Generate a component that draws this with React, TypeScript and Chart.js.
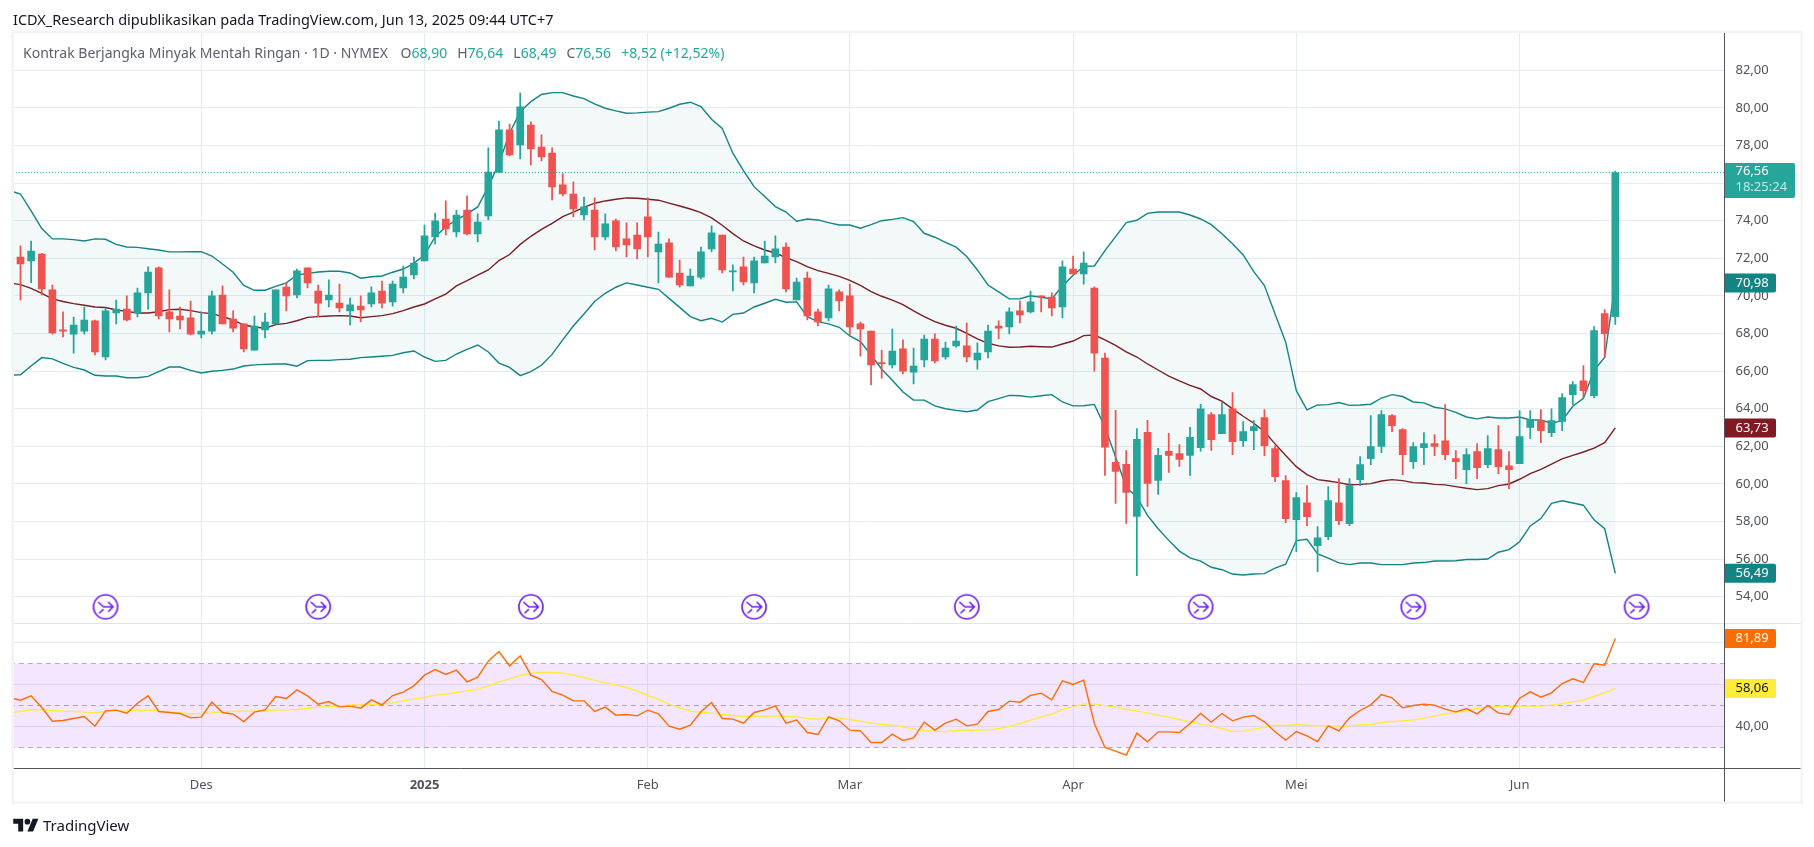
import React, { useEffect, useRef } from "react";
import { Chart, registerables } from "chart.js";

Chart.register(...registerables);

const opens = [
  72.07,71.86,72.23,70.32,68.19,67.97,68.13,68.67,66.75,69.09,
  69.30,69.09,70.16,71.49,69.15,68.93,68.83,67.97,68.13,70.05,
  68.77,68.51,67.12,68.19,68.51,70.47,70.05,71.49,70.26,69.78,
  69.62,69.20,69.46,69.57,70.26,69.68,70.42,71.11,71.86,73.13,
  74.09,73.40,74.57,73.29,74.25,76.56,78.83,78.03,79.09,77.92,
  77.60,75.90,75.42,74.30,74.57,73.13,73.99,73.03,73.24,74.20,
  72.34,72.82,71.22,70.53,71.0,72.50,73.24,71.27,71.54,70.69,
  71.75,72.07,72.60,69.78,70.95,69.15,68.83,70.21,70.0,68.51,
  68.13,66.43,66.33,67.18,65.95,66.59,67.71,66.75,67.34,67.34,
  66.59,67.02,68.40,68.35,69.20,69.15,70.0,69.94,69.41,71.43,
  71.17,70.42,66.70,61.15,61.04,58.27,62.74,60.19,61.73,61.62,
  61.52,61.93,63.69,62.68,64.0,62.30,62.84,63.53,61.88,60.18,
  58.10,59.0,56.72,57.2,59.0,57.89,60.23,61.35,61.99,63.63,
  62.89,61.19,61.93,62.15,62.30,61.35,60.76,61.72,61.03,61.83,
  60.97,61.08,63.0,63.37,62.73,63.32,64.75,65.49,64.70,69.06,68.90,
];
const closes = [
  71.70,72.39,70.37,68.03,68.13,68.45,68.72,67.02,69.20,69.30,
  68.72,70.16,71.27,68.93,68.77,68.72,67.97,68.13,70.0,68.51,
  68.29,67.18,68.40,68.61,70.32,70.0,71.33,70.69,69.62,70.05,
  69.36,69.52,69.25,70.16,69.62,70.63,71.0,71.75,73.19,73.99,
  73.56,74.30,73.29,73.93,76.59,78.83,77.50,80.05,77.82,77.39,
  75.79,75.42,74.62,74.73,73.13,73.83,72.60,72.71,72.50,73.13,
  72.76,71.0,70.58,71.06,72.34,73.35,71.38,71.33,70.74,71.86,
  72.12,72.50,70.37,70.74,68.93,68.61,70.37,69.73,68.35,68.24,
  66.33,66.40,67.07,66.0,66.27,67.71,66.54,67.23,67.60,66.75,
  66.96,68.13,68.29,69.15,68.99,69.68,69.94,69.36,71.54,71.17,
  71.75,66.96,61.96,60.67,59.55,62.37,60.03,61.52,61.52,61.30,
  62.48,64.0,62.36,63.69,62.25,62.78,63.05,62.04,60.39,58.16,
  59.27,58.26,57.14,59.11,58.05,59.91,61.03,61.99,63.69,63.10,
  61.56,61.99,62.15,61.99,61.56,61.19,61.56,60.87,61.88,60.92,
  60.76,62.52,63.42,62.84,63.37,64.59,65.28,64.96,68.16,67.99,76.56,
];
const highs = [
  72.66,72.92,72.27,70.58,69.15,68.88,69.41,68.72,69.36,69.78,
  70.0,70.42,71.54,71.54,70.32,69.41,69.73,69.15,70.26,70.53,
  69.20,68.51,68.93,69.09,70.32,70.69,71.43,71.49,70.58,70.85,
  70.63,69.89,70.0,70.48,70.79,70.79,71.59,72.07,73.77,74.41,
  75.05,74.57,75.32,74.36,77.87,79.30,79.14,80.79,79.25,78.56,
  77.87,76.49,76.06,75.26,75.21,74.36,74.09,73.88,73.88,75.21,
  73.40,73.03,71.91,71.43,72.60,73.72,73.24,71.65,72.07,72.07,
  72.92,73.19,72.82,70.95,71.27,69.30,70.58,70.32,70.63,68.61,
  68.13,67.12,68.24,67.66,67.23,67.92,67.98,67.55,68.40,68.56,
  67.50,68.45,68.67,69.36,69.73,70.26,70.0,70.16,71.86,72.12,
  72.34,70.48,66.96,63.91,61.78,62.95,63.38,61.89,62.69,62.10,
  63.01,64.23,63.79,64.33,64.86,63.32,63.37,63.95,62.04,60.44,
  59.54,59.91,57.73,59.86,60.28,60.28,61.45,63.63,63.90,63.69,
  62.94,62.20,62.73,62.62,64.22,61.78,61.88,62.15,62.57,63.10,
  61.72,63.90,63.90,63.95,64.0,64.80,65.44,66.29,68.37,69.27,76.64,
];
const lows = [
  69.78,70.71,70.05,67.97,67.82,66.96,67.97,66.86,66.59,68.51,
  68.67,68.88,69.30,68.77,68.08,68.24,67.92,67.76,67.97,68.51,
  68.08,67.02,67.12,67.76,68.51,69.2,69.89,70.42,68.88,69.41,
  69.15,68.45,68.61,69.41,69.36,69.46,70.16,70.90,71.86,72.76,
  73.24,73.13,73.24,72.87,74.04,76.56,77.44,77.28,76.96,77.18,
  75.10,75.32,74.20,74.04,72.44,72.98,72.39,72.07,71.96,72.07,
  70.69,71.0,70.47,70.53,70.90,72.34,71.22,70.26,70.58,70.16,
  71.75,71.75,70.21,69.78,68.72,68.40,68.67,69.20,67.92,66.80,
  65.26,65.63,66.17,65.85,65.32,66.22,66.43,66.64,67.28,66.49,
  66.11,66.70,67.71,67.98,68.56,69.09,69.15,68.93,68.83,71.17,
  70.63,66.0,60.45,58.96,57.90,55.13,58.80,59.44,60.61,60.93,
  60.45,61.75,61.78,62.68,61.56,61.99,61.83,61.51,60.12,57.94,
  56.4,57.78,55.34,57.04,57.84,57.78,59.91,61.03,61.67,62.78,
  60.50,60.82,61.03,61.51,61.29,60.28,60.02,60.28,60.87,60.55,
  59.75,61.08,62.41,62.20,62.52,62.84,64.22,64.59,64.59,66.74,68.49,
];

// Indicator series start one bar before the first visible candle.
const bbUpper = [
  75.6,
  75.42,74.52,73.58,73.03,73.03,72.99,72.92,73.03,73.01,72.74,
  72.60,72.58,72.51,72.44,72.34,72.34,72.35,72.35,72.12,71.70,
  71.26,70.56,70.30,70.30,70.51,70.69,71.11,71.20,71.27,71.31,
  71.31,71.22,70.94,71.02,71.06,71.26,71.43,71.73,72.18,73.15,
  73.68,74.04,74.36,74.73,75.81,77.05,78.65,79.80,80.33,80.71,
  80.81,80.81,80.63,80.49,80.21,79.98,79.84,79.71,79.73,79.77,
  79.80,79.98,80.19,80.30,80.07,79.39,78.91,77.59,76.66,75.81,
  75.28,74.75,74.46,73.97,74.09,74.04,73.90,73.77,73.77,73.60,
  73.79,74.00,74.07,74.16,73.95,73.33,73.12,72.85,72.59,72.09,
  71.38,70.58,70.21,69.84,69.85,70.01,69.93,69.85,70.53,71.10,
  71.57,71.59,72.41,73.15,73.90,74.02,74.39,74.46,74.46,74.46,
  74.30,74.09,73.79,73.30,72.77,72.18,71.29,70.55,69.04,67.54,
  64.96,63.94,64.20,64.22,64.33,64.18,64.20,64.24,64.57,64.75,
  64.65,64.36,64.31,64.08,63.99,63.81,63.56,63.46,63.56,63.51,
  63.51,63.56,63.40,63.40,63.23,63.37,64.13,64.56,66.03,66.74,70.69,
];
const bbMiddle = [
  70.69,
  70.60,70.40,70.14,69.84,69.70,69.59,69.50,69.41,69.38,69.25,
  69.18,69.09,69.09,69.16,69.27,69.29,69.22,69.11,69.06,68.90,
  68.72,68.45,68.35,68.28,68.47,68.54,68.68,68.86,68.90,68.93,
  68.95,68.93,68.84,68.90,68.95,69.06,69.22,69.41,69.57,69.84,
  70.10,70.53,70.81,71.11,71.38,71.88,72.20,72.74,73.17,73.54,
  73.86,74.22,74.46,74.71,74.93,75.05,75.14,75.21,75.19,75.14,
  75.09,74.93,74.78,74.62,74.43,74.15,73.76,73.31,72.92,72.66,
  72.44,72.28,72.04,71.82,71.56,71.34,71.20,71.04,70.83,70.56,
  70.23,69.98,69.78,69.54,69.20,68.90,68.63,68.44,68.28,68.01,
  67.71,67.48,67.34,67.27,67.28,67.32,67.30,67.28,67.44,67.60,
  67.89,67.92,67.66,67.37,67.02,66.75,66.38,66.06,65.74,65.48,
  65.24,65.05,64.65,64.40,63.99,63.60,63.23,62.78,62.13,61.51,
  60.92,60.50,60.23,60.16,60.07,59.96,59.98,60.02,60.16,60.23,
  60.18,60.07,60.05,59.98,59.95,59.86,59.77,59.70,59.75,59.91,
  60.00,60.25,60.55,60.78,61.05,61.33,61.52,61.70,61.91,62.20,62.98,
];
const bbLower = [
  65.79,
  65.81,66.27,66.72,66.65,66.41,66.20,66.06,65.78,65.74,65.74,
  65.65,65.65,65.72,65.97,66.22,66.22,66.04,65.90,65.99,66.04,
  66.11,66.27,66.33,66.36,66.38,66.38,66.26,66.56,66.57,66.57,
  66.61,66.63,66.72,66.75,66.79,66.84,66.98,67.07,66.75,66.52,
  66.57,66.91,67.16,67.39,67.02,66.43,66.20,65.76,65.97,66.31,
  66.89,67.66,68.40,69.04,69.70,70.14,70.46,70.69,70.58,70.46,
  70.35,69.87,69.39,68.90,68.68,68.81,68.61,69.02,69.09,69.41,
  69.61,69.82,69.66,69.68,68.90,68.63,68.51,68.33,67.87,67.57,
  66.86,66.10,65.51,64.89,64.46,64.46,64.15,64.00,63.91,63.84,
  63.93,64.38,64.54,64.71,64.69,64.62,64.69,64.75,64.36,64.15,
  64.16,64.23,63.02,61.43,59.83,59.30,58.33,57.62,57.00,56.43,
  56.07,55.90,55.57,55.44,55.21,55.16,55.21,55.23,55.53,55.73,
  56.99,57.06,56.28,56.06,55.80,55.71,55.80,55.80,55.71,55.71,
  55.71,55.80,55.82,55.90,55.90,55.92,55.98,55.98,56.01,56.37,
  56.51,56.93,57.77,58.16,58.97,59.11,58.99,58.87,58.09,57.62,55.25,
];
const rsiValues = [
  53.65,
  52.54,54.60,49.05,42.54,42.86,43.81,44.76,40.16,47.46,47.78,
  46.35,51.11,54.60,47.14,46.67,46.19,44.13,44.44,51.59,46.67,
  45.87,42.38,46.83,47.94,54.29,53.33,57.46,54.60,50.63,51.90,
  49.37,49.68,48.73,52.70,50.32,54.76,56.35,59.37,64.44,67.14,
  64.76,66.83,61.27,63.49,71.11,75.71,68.89,73.65,64.44,62.38,
  56.67,54.92,52.22,52.22,47.14,49.21,45.40,45.71,45.08,47.78,
  46.03,40.16,38.73,40.63,46.98,51.43,43.81,43.49,41.59,46.67,
  47.94,49.84,41.59,43.02,37.14,36.19,44.60,42.70,38.25,37.94,
  32.38,32.38,36.35,33.33,34.60,42.06,38.25,41.59,43.49,40.32,
  41.11,47.14,48.10,52.06,51.59,54.76,55.87,52.70,61.75,60.0,
  62.06,41.43,30.0,28.25,26.35,36.83,32.70,37.46,37.46,37.14,
  41.43,46.19,42.06,46.19,42.70,44.44,45.24,42.22,37.46,33.49,
  37.62,35.56,32.86,40.32,37.94,44.13,47.62,50.32,55.24,53.65,
  48.89,50.0,50.63,50.16,48.25,46.98,48.57,46.03,50.0,46.51,
  45.71,53.49,56.51,53.97,56.03,60.48,62.70,60.95,69.84,69.21,81.89,
];
const rsiMa = [
  46.51,
  47.14,48.10,47.94,47.62,47.30,47.14,46.83,46.51,47.14,47.30,
  47.46,47.62,47.78,47.46,46.98,46.51,46.03,46.19,46.51,46.98,
  47.14,47.30,47.30,47.62,47.78,47.94,48.10,48.57,49.21,49.52,
  49.84,50.32,50.32,50.48,50.63,51.27,52.22,53.02,53.81,54.92,
  55.40,56.19,56.98,57.78,59.21,61.27,62.70,64.29,65.40,65.71,
  65.71,65.40,64.44,63.33,62.06,60.79,59.68,58.57,56.83,54.76,
  53.02,50.63,48.89,47.30,46.67,46.35,45.71,45.24,44.76,44.76,
  44.92,44.92,44.76,44.60,43.81,43.49,43.97,43.97,43.33,42.54,
  41.59,40.95,40.63,39.84,38.73,38.10,37.78,37.62,38.10,38.25,
  38.25,38.41,39.05,40.0,41.43,43.02,44.44,45.87,48.10,49.37,
  50.79,50.79,49.84,49.21,48.10,47.46,46.35,45.40,44.44,43.33,
  42.22,41.27,40.16,39.05,37.62,37.78,38.73,39.68,40.63,40.48,
  40.95,40.63,40.32,40.32,40.16,40.32,40.79,40.95,41.90,42.38,
  42.70,43.17,43.97,45.08,45.87,46.67,47.62,48.57,49.21,49.52,
  49.52,49.68,49.68,49.68,50.16,50.95,51.75,52.54,54.29,56.03,58.06,
];

const priceTicks = [54,56,58,60,62,64,66,68,70,72,74,76,78,80,82];
const rsiTicks = [40,60,80];
const rsiBandLevels = [70,50,30];
const lastPrice = 76.56;
const countdownText = "18:25:24";
const monthTicks = [17,38,59,78,99,120,141];
const monthLabels = ["Des","2025","Feb","Mar","Apr","Mei","Jun"];
const eventBars = [8,28,48,69,89,111,131,152];
const eventLevel = 53.47;
const indicatorLabelText = ["70,98","63,73","56,49","81,89","58,06"];

const titleText = "ICDX_Research dipublikasikan pada TradingView.com, Jun 13, 2025 09:44 UTC+7";
const legendName = "Kontrak Berjangka Minyak Mentah Ringan · 1D · NYMEX";
const legendPairs = [["O","68,90"],["H","76,64"],["L","68,49"],["C","76,56"]];
const legendChange = "+8,52 (+12,52%)";

const UP = "#26a69a", DOWN = "#ef5350", BAND = "#138484", BASIS = "#801922", RSI = "#ff6d00", MA = "#ffeb3b";
const FONT = "'Noto Sans', sans-serif";
const GRID = "#e4ecf1";
const AXIS = "#50535e";
const LEFT = 13.8, RIGHT = 1724.5, TOP = 33, XAXIS = 768.5, BOTTOM = 801.7, OUTER = 1800.6, PANE = 623.5;

const fmt = (v: number) => v.toFixed(2).replace(".", ",");

function makeEventIcon() {
  const c = document.createElement("canvas");
  c.width = 28; c.height = 28;
  const g = c.getContext("2d")!;
  g.strokeStyle = "#6a1ff5";
  g.lineCap = "round";
  g.fillStyle = "#ffffff";
  g.lineWidth = 1.7;
  g.beginPath(); g.arc(14, 14, 12, 0, Math.PI * 2); g.fill(); g.stroke();
  g.lineWidth = 1.6;
  g.beginPath();
  g.moveTo(7, 9.5); g.lineTo(12, 14); g.lineTo(21.5, 14);
  g.moveTo(17, 9.5); g.lineTo(21.5, 14); g.lineTo(17, 18.5);
  g.moveTo(8, 20); g.lineTo(11.5, 16.8);
  g.stroke();
  return c;
}

const framePlugin = {
  id: "frame",
  beforeDraw(chart: any) {
    const { ctx, width, height } = chart;
    ctx.save();
    ctx.fillStyle = "#ffffff";
    ctx.fillRect(0, 0, width, height);
    ctx.strokeStyle = "#f3f3f3";
    ctx.lineWidth = 2.5;
    ctx.strokeRect(LEFT - 1.2, TOP - 1.2, OUTER - LEFT + 2.4, BOTTOM - TOP + 2.4);
    ctx.restore();
  },
  afterDraw(chart: any) {
    const { ctx, scales } = chart;
    ctx.save();
    // pane divider and axis rules
    ctx.strokeStyle = "#e0e3eb";
    ctx.lineWidth = 1;
    ctx.beginPath(); ctx.moveTo(LEFT, PANE); ctx.lineTo(OUTER, PANE); ctx.stroke();
    ctx.strokeStyle = AXIS;
    ctx.beginPath(); ctx.moveTo(LEFT, XAXIS); ctx.lineTo(OUTER, XAXIS); ctx.stroke();
    ctx.beginPath(); ctx.moveTo(RIGHT, TOP); ctx.lineTo(RIGHT, BOTTOM); ctx.stroke();

    const tag = (y: number, h: number, w: number, color: string) => {
      ctx.fillStyle = color;
      ctx.beginPath();
      ctx.roundRect(RIGHT + 0.5, y - h / 2, w, h, [0, 2, 2, 0]);
      ctx.fill();
    };
    ctx.textBaseline = "middle";
    ctx.textAlign = "left";
    ctx.font = `13px ${FONT}`;

    const sources = [
      { y: scales.y.getPixelForValue(bbUpper[bbUpper.length - 1]), bg: BAND, fg: "#ffffff" },
      { y: scales.y.getPixelForValue(bbMiddle[bbMiddle.length - 1]), bg: BASIS, fg: "#ffffff" },
      { y: scales.y.getPixelForValue(bbLower[bbLower.length - 1]), bg: BAND, fg: "#ffffff" },
      { y: scales.yRsi.getPixelForValue(rsiValues[rsiValues.length - 1]), bg: RSI, fg: "#ffffff" },
      { y: scales.yRsi.getPixelForValue(rsiMa[rsiMa.length - 1]), bg: MA, fg: "#131722" },
    ];
    sources.forEach((s, i) => {
      tag(s.y, 19, 51, s.bg);
      ctx.fillStyle = s.fg;
      ctx.fillText(indicatorLabelText[i], RIGHT + 11, s.y);
    });

    const py = scales.y.getPixelForValue(lastPrice);
    tag(py + 8, 35, 70, UP);
    ctx.fillStyle = "#ffffff";
    ctx.fillText(fmt(lastPrice), RIGHT + 11, py - 1);
    ctx.fillStyle = "#c4e8e4";
    ctx.fillText(countdownText, RIGHT + 11, py + 15);
    ctx.restore();
  },
};

export default function App() {
  const ref = useRef<HTMLCanvasElement>(null);
  useEffect(() => {
    const indexed = (arr: number[]) => arr.map((y, i) => ({ x: i - 1, y }));
    const colors = closes.map((c, i) => (c >= opens[i] ? UP : DOWN));
    const lineBase = { type: "line", pointRadius: 0, tension: 0, fill: false, order: 3, yAxisID: "y" };
    const icon = makeEventIcon();

    const datasets: any[] = [
      { ...lineBase, label: "BB upper", data: indexed(bbUpper), borderColor: BAND, borderWidth: 1.4, fill: { target: 2 }, backgroundColor: "rgba(19,132,132,0.052)" },
      { ...lineBase, label: "BB basis", data: indexed(bbMiddle), borderColor: BASIS, borderWidth: 1.4 },
      { ...lineBase, label: "BB lower", data: indexed(bbLower), borderColor: BAND, borderWidth: 1.4 },
      { type: "bar", label: "Wicks", grouped: false, order: 2, barThickness: 1.1, yAxisID: "y", backgroundColor: colors,
        data: highs.map((h, i) => ({ x: i, y: [lows[i], h] })) },
      { type: "bar", label: "Bodies", grouped: false, order: 1, barThickness: 7, minBarLength: 1, yAxisID: "y", backgroundColor: colors,
        data: opens.map((o, i) => ({ x: i, y: [o, closes[i]] })) },
      { ...lineBase, label: "Last price", order: 0, data: [{ x: -1, y: lastPrice }, { x: 161, y: lastPrice }], borderColor: UP, borderWidth: 1, borderDash: [1, 2] },
      { type: "line", label: "Events", order: 0, showLine: false, yAxisID: "y", pointStyle: icon, pointRadius: 13,
        data: eventBars.map((x) => ({ x, y: eventLevel })) },
      { ...lineBase, label: "RSI upper", yAxisID: "yRsi", data: [{ x: -1, y: rsiBandLevels[0] }, { x: 161, y: rsiBandLevels[0] }], borderColor: "#b8aec0", borderWidth: 1, borderDash: [5, 4], fill: { target: 8 }, backgroundColor: "rgba(156,39,242,0.115)" },
      { ...lineBase, label: "RSI lower", yAxisID: "yRsi", data: [{ x: -1, y: rsiBandLevels[2] }, { x: 161, y: rsiBandLevels[2] }], borderColor: "#b8aec0", borderWidth: 1, borderDash: [5, 4] },
      { ...lineBase, label: "RSI mid", yAxisID: "yRsi", data: [{ x: -1, y: rsiBandLevels[1] }, { x: 161, y: rsiBandLevels[1] }], borderColor: "#b8aec0", borderWidth: 1, borderDash: [5, 4] },
      { ...lineBase, label: "RSI MA", order: 2, yAxisID: "yRsi", data: indexed(rsiMa), borderColor: MA, borderWidth: 1.4 },
      { ...lineBase, label: "RSI", order: 1, yAxisID: "yRsi", data: indexed(rsiValues), borderColor: RSI, borderWidth: 1.4 },
    ];

    const chart = new Chart(ref.current!, {
      data: { datasets },
      plugins: [framePlugin],
      options: {
        animation: false,
        responsive: false,
        devicePixelRatio: 1,
        layout: { padding: { left: LEFT, top: TOP, right: 1814 - OUTER, bottom: 847 - BOTTOM } },
        plugins: { legend: { display: false }, tooltip: { enabled: false } },
        scales: {
          x: {
            type: "linear", min: -0.611, max: 160.27, offset: false,
            grid: { color: GRID, drawTicks: false, offset: false },
            border: { display: false },
            afterBuildTicks: (s: any) => { s.ticks = monthTicks.map((value) => ({ value })); },
            afterFit: (s: any) => { s.height = BOTTOM - XAXIS; },
            ticks: {
              autoSkip: false, maxRotation: 0, padding: 9, color: "#4f525c",
              font: (c: any) => ({ family: FONT, size: 13, weight: c.tick && c.tick.value === 38 ? "bold" : "normal" }),
              callback: (v: any) => monthLabels[monthTicks.indexOf(v)] ?? "",
            },
          },
          y: {
            type: "linear", position: "right", stack: "panes", stackWeight: PANE - TOP, weight: 1,
            min: 52.58, max: 83.98,
            grid: { color: GRID, drawTicks: false },
            border: { display: false },
            afterBuildTicks: (s: any) => { s.ticks = priceTicks.map((value) => ({ value })); },
            afterFit: (s: any) => { s.width = OUTER - RIGHT; },
            ticks: { padding: 11, color: "#4f525c", font: { family: FONT, size: 13 }, callback: (v: any) => fmt(v) },
          },
          yRsi: {
            type: "linear", position: "right", stack: "panes", stackWeight: XAXIS - PANE, weight: 2,
            min: 20, max: 89.05,
            grid: { color: GRID, drawTicks: false },
            border: { display: false },
            afterBuildTicks: (s: any) => { s.ticks = rsiTicks.map((value) => ({ value })); },
            afterFit: (s: any) => { s.width = OUTER - RIGHT; },
            ticks: { padding: 11, color: "#4f525c", font: { family: FONT, size: 13 }, callback: (v: any) => fmt(v) },
          },
        },
      } as any,
    } as any);
    return () => chart.destroy();
  }, []);

  return (
    <div style={{ position: "absolute", left: 0, top: 0, width: 1814, height: 847, background: "#fff", overflow: "hidden" }}>
      <canvas ref={ref} width={1814} height={847} style={{ position: "absolute", left: 0, top: 0, width: 1814, height: 847 }} />
      <div style={{ position: "absolute", left: 13, top: 9, font: `14.5px ${FONT}`, color: "#131722", whiteSpace: "nowrap" }}>{titleText}</div>
      <div style={{ position: "absolute", left: 23, top: 43, font: `14px ${FONT}`, color: "#5d606b", whiteSpace: "nowrap" }}>
        <span>{legendName}</span>
        {legendPairs.map(([k, v], i) => (
          <span key={k} style={{ marginLeft: i === 0 ? 12.5 : 10 }}>{k}<span style={{ color: UP }}>{v}</span></span>
        ))}
        <span style={{ marginLeft: 10, color: UP }}>{legendChange}</span>
      </div>
      <svg style={{ position: "absolute", left: 13, top: 816 }} width="26" height="17" viewBox="0 0 36 24">
        <path d="M14 22H7V11H0V4h14v18zM28 22h-8l7.5-18h8L28 22z" fill="#131722" />
        <circle cx="20" cy="8" r="4" fill="#131722" />
      </svg>
      <div style={{ position: "absolute", left: 43, top: 815, font: `15px ${FONT}`, color: "#131722", whiteSpace: "nowrap" }}>TradingView</div>
    </div>
  );
}
